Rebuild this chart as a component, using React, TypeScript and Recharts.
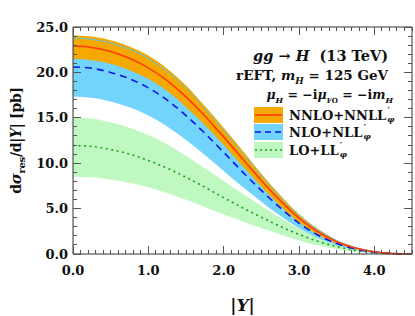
import React from "react";
import { Area, ComposedChart, Line, XAxis, YAxis } from "recharts";

const FONT = "'DejaVu Serif', serif";

// |Y| grid
const rapidity = [0, 0.25, 0.5, 0.75, 1, 1.25, 1.5, 1.75, 2, 2.25, 2.5, 2.75, 3, 3.25, 3.5, 3.75, 4, 4.25, 4.5];

// NNLO+NNLL'
const nnloLow = [21.5, 21.35, 20.95, 20.25, 19.3, 17.95, 16.2, 14.2, 12.0, 9.7, 7.4, 5.3, 3.5, 2.13, 1.15, 0.55, 0.2, 0.05, 0.0];
const nnloCentral = [22.9, 22.75, 22.3, 21.55, 20.5, 19.1, 17.3, 15.2, 12.9, 10.5, 8.1, 5.9, 3.95, 2.45, 1.35, 0.65, 0.25, 0.06, 0.0];
const nnloHigh = [24.1, 23.95, 23.55, 22.85, 21.85, 20.4, 18.55, 16.3, 13.9, 11.4, 8.85, 6.5, 4.4, 2.77, 1.55, 0.75, 0.3, 0.07, 0.01];

// NLO+NLL'
const nloLow = [17.35, 17.2, 16.8, 16.15, 15.25, 14.05, 12.55, 10.9, 9.15, 7.4, 5.75, 4.2, 2.85, 1.75, 0.97, 0.47, 0.17, 0.04, 0.0];
const nloCentral = [20.6, 20.45, 20.0, 19.3, 18.3, 16.95, 15.25, 13.3, 11.2, 9.05, 7.0, 5.1, 3.4, 2.1, 1.15, 0.55, 0.2, 0.05, 0.0];
const nloHigh = [23.8, 23.65, 23.25, 22.55, 21.55, 20.1, 18.25, 16.0, 13.6, 11.12, 8.6, 6.3, 4.25, 2.67, 1.48, 0.71, 0.28, 0.06, 0.0];

// LO+LL'
const loLow = [8.5, 8.45, 8.2, 7.85, 7.35, 6.72, 5.98, 5.18, 4.38, 3.6, 2.85, 2.15, 1.5, 0.95, 0.53, 0.25, 0.09, 0.02, 0.0];
const loCentral = [11.95, 11.85, 11.5, 11.0, 10.3, 9.45, 8.45, 7.35, 6.2, 5.1, 4.05, 3.05, 2.15, 1.4, 0.82, 0.4, 0.15, 0.04, 0.0];
const loHigh = [15.0, 14.9, 14.5, 13.9, 13.1, 12.05, 10.8, 9.45, 8.05, 6.65, 5.3, 4.0, 2.8, 1.8, 1.02, 0.5, 0.19, 0.05, 0.0];

// tick marks every 0.1 in |Y| and every 1 pb; labelled on integers / multiples of 5
const xTicks = Array.from({ length: 46 }, (_, i) => i / 10);
const yTicks = Array.from({ length: 26 }, (_, i) => i);
const isXMajor = (v: number) => Math.abs(v - Math.round(v)) < 1e-6 && v < 4.5;
const isYMajor = (v: number) => v % 5 === 0;

const ORANGE = "#f4a800";
const SKY = "#72d4fc";
const MINT = "#bff8c0";
const RED = "#ff3a10";
const BLUE = "#0a14e6";
const GREEN = "#18a418";
const CYAN = "#5cc8e4";
const FRAME = "#333";
const TICK = "#555";
const MAJOR_LEN = 8;
const MINOR_LEN = 4;

const legendRows = [
  { label: "NNLO+NNLL", fill: ORANGE, stroke: RED, dash: undefined as string | undefined },
  { label: "NLO+NLL", fill: SKY, stroke: BLUE, dash: "6 4" },
  { label: "LO+LL", fill: MINT, stroke: GREEN, dash: "2 3" },
];

const data = rapidity.map((y, i) => ({
  y,
  nnlo: [nnloLow[i], nnloHigh[i]],
  nnloC: nnloCentral[i],
  nlo: [nloLow[i], nloHigh[i]],
  nloTop: nloHigh[i],
  nloC: nloCentral[i],
  lo: [loLow[i], loHigh[i]],
  loC: loCentral[i],
}));

const labelFont = { fill: "#111", fontSize: 13, fontFamily: FONT, fontWeight: 700 };
const X_MARGIN = 12;
const Y_MARGIN = 5;

function BottomTick({ x, y, payload }: any) {
  const v = payload.value;
  const major = isXMajor(v);
  const base = y - X_MARGIN;
  return (
    <g>
      <line x1={x} x2={x} y1={base} y2={base - (major ? MAJOR_LEN : MINOR_LEN)} stroke={TICK} strokeWidth={1} shapeRendering="crispEdges" />
      {major && (
        <text x={x} y={y} dy="0.71em" textAnchor="middle" {...labelFont}>
          {v.toFixed(1)}
        </text>
      )}
    </g>
  );
}

function LeftTick({ x, y, payload }: any) {
  const v = payload.value;
  const major = isYMajor(v);
  const base = x + Y_MARGIN;
  return (
    <g>
      <line x1={base} x2={base + (major ? MAJOR_LEN : MINOR_LEN)} y1={y} y2={y} stroke={TICK} strokeWidth={1} shapeRendering="crispEdges" />
      {major && (
        <text x={x} y={y} dy="0.355em" textAnchor="end" {...labelFont}>
          {v.toFixed(1)}
        </text>
      )}
    </g>
  );
}

function TopTick({ x, y, payload }: any) {
  const major = isXMajor(payload.value);
  return <line x1={x} x2={x} y1={y} y2={y + (major ? MAJOR_LEN : MINOR_LEN)} stroke={TICK} strokeWidth={1} shapeRendering="crispEdges" />;
}

function RightTick({ x, y, payload }: any) {
  const major = isYMajor(payload.value);
  return <line x1={x} x2={x - (major ? MAJOR_LEN : MINOR_LEN)} y1={y} y2={y} stroke={TICK} strokeWidth={1} shapeRendering="crispEdges" />;
}

function YLabel({ viewBox }: any) {
  const cx = viewBox.x + 21;
  const cy = viewBox.y + viewBox.height / 2;
  return (
    <text transform={`translate(${cx},${cy}) rotate(-90)`} textAnchor="middle" fontFamily={FONT} fontWeight={700} fontSize={14} letterSpacing={-0.3} fill="#111">
      <tspan>d</tspan>
      <tspan fontStyle="italic" fontSize={15}>σ</tspan>
      <tspan dy={4} fontSize={10}>res</tspan>
      <tspan dy={-4}>/d|</tspan>
      <tspan fontStyle="italic">Y</tspan>
      <tspan>| [pb]</tspan>
    </text>
  );
}

function XLabel({ viewBox }: any) {
  return (
    <text x={viewBox.x + viewBox.width / 2} y={viewBox.y + 57} textAnchor="middle" fontFamily={FONT} fontWeight={700} fontSize={17} fill="#111">
      |<tspan fontStyle="italic">Y</tspan>|
    </text>
  );
}

function Swatch({ fill, stroke, dash }: { fill: string; stroke: string; dash?: string }) {
  return (
    <svg width={29} height={16} style={{ display: "block" }}>
      <rect x={0} y={0} width={29} height={16} fill={fill} />
      <line x1={1} x2={28} y1={8} y2={8} stroke={stroke} strokeWidth={1.6} strokeDasharray={dash} />
    </svg>
  );
}

// prime stacked over a subscript phi, as in NNLL'_phi
function PrimePhi() {
  return (
    <span style={{ display: "inline-flex", flexDirection: "column", lineHeight: "8px", verticalAlign: "6px", marginLeft: 1 }}>
      <span style={{ fontSize: 10 }}>′</span>
      <i style={{ fontSize: 8 }}>φ</i>
    </span>
  );
}

export default function App() {
  const xDomain: [number, number] = [0, 4.5];
  const yDomain: [number, number] = [0, 25];
  return (
    <div style={{ position: "absolute", left: 0, top: 0, width: 415, height: 316, background: "#fff" }}>
      <ComposedChart width={415} height={316} data={data} margin={{ top: 0, right: 0, bottom: 0, left: 0 }}>
        <XAxis type="number" dataKey="y" domain={xDomain} ticks={xTicks} interval={0} height={62} tickSize={0} tickMargin={X_MARGIN} tickLine={false} tick={<BottomTick />} axisLine={{ stroke: FRAME }} label={<XLabel />} />
        <YAxis type="number" domain={yDomain} ticks={yTicks} interval={0} width={73} tickSize={0} tickMargin={Y_MARGIN} tickLine={false} tick={<LeftTick />} axisLine={{ stroke: FRAME }} label={<YLabel />} />
        <XAxis xAxisId="top" orientation="top" type="number" dataKey="y" domain={xDomain} ticks={xTicks} interval={0} height={27} tickSize={0} tickMargin={0} tickLine={false} tick={<TopTick />} axisLine={{ stroke: FRAME }} />
        <YAxis yAxisId="right" orientation="right" type="number" domain={yDomain} ticks={yTicks} interval={0} width={3} tickSize={0} tickMargin={0} tickLine={false} tick={<RightTick />} axisLine={{ stroke: FRAME }} />

        <Area type="monotone" dataKey="lo" fill={MINT} fillOpacity={1} stroke="none" isAnimationActive={false} />
        <Area type="monotone" dataKey="nlo" fill={SKY} fillOpacity={1} stroke="none" isAnimationActive={false} />
        <Area type="monotone" dataKey="nnlo" fill={ORANGE} fillOpacity={1} stroke="none" isAnimationActive={false} />
        <Line type="monotone" dataKey="loC" stroke={GREEN} strokeWidth={1.6} strokeDasharray="2 3.5" dot={false} isAnimationActive={false} />
        <Line type="monotone" dataKey="nloTop" stroke={CYAN} strokeWidth={1} dot={false} isAnimationActive={false} />
        <Line type="monotone" dataKey="nloC" stroke={BLUE} strokeWidth={1.6} strokeDasharray="7 5" dot={false} isAnimationActive={false} />
        <Line type="monotone" dataKey="nnloC" stroke={RED} strokeWidth={1.6} dot={false} isAnimationActive={false} />
        {/* keeps the top/right frame axes bound to a series */}
        <Line xAxisId="top" yAxisId="right" type="monotone" dataKey="nnloC" stroke="none" dot={false} isAnimationActive={false} />
      </ComposedChart>

      <div style={{ position: "absolute", right: 27, top: 46, textAlign: "right", fontFamily: FONT, fontWeight: 700, color: "#111", whiteSpace: "nowrap" }}>
        <div style={{ fontSize: 14.5, lineHeight: "20px" }}>
          <i>gg</i> → <i>H</i>&nbsp;&nbsp;(13 TeV)
        </div>
        <div style={{ fontSize: 13.5, lineHeight: "18px" }}>
          rEFT, <i>m</i><sub style={{ fontSize: 9 }}><i>H</i></sub> = 125 GeV
        </div>
      </div>
      <div style={{ position: "absolute", right: 22, top: 87, fontFamily: FONT, fontWeight: 700, fontSize: 12.5, color: "#111", whiteSpace: "nowrap" }}>
        <i>μ</i><sub style={{ fontSize: 8 }}><i>H</i></sub> = −i<i>μ</i><sub style={{ fontSize: 7 }}>FO</sub> = −i<i>m</i><sub style={{ fontSize: 8 }}><i>H</i></sub>
      </div>
      <div style={{ position: "absolute", left: 254, top: 106, fontFamily: FONT, fontWeight: 700, fontSize: 13, color: "#111", whiteSpace: "nowrap" }}>
        {legendRows.map((r) => (
          <div key={r.label} style={{ display: "flex", alignItems: "center", height: 17.5 }}>
            <Swatch fill={r.fill} stroke={r.stroke} dash={r.dash} />
            <span style={{ marginLeft: 6 }}>
              {r.label}
              <PrimePhi />
            </span>
          </div>
        ))}
      </div>
    </div>
  );
}
